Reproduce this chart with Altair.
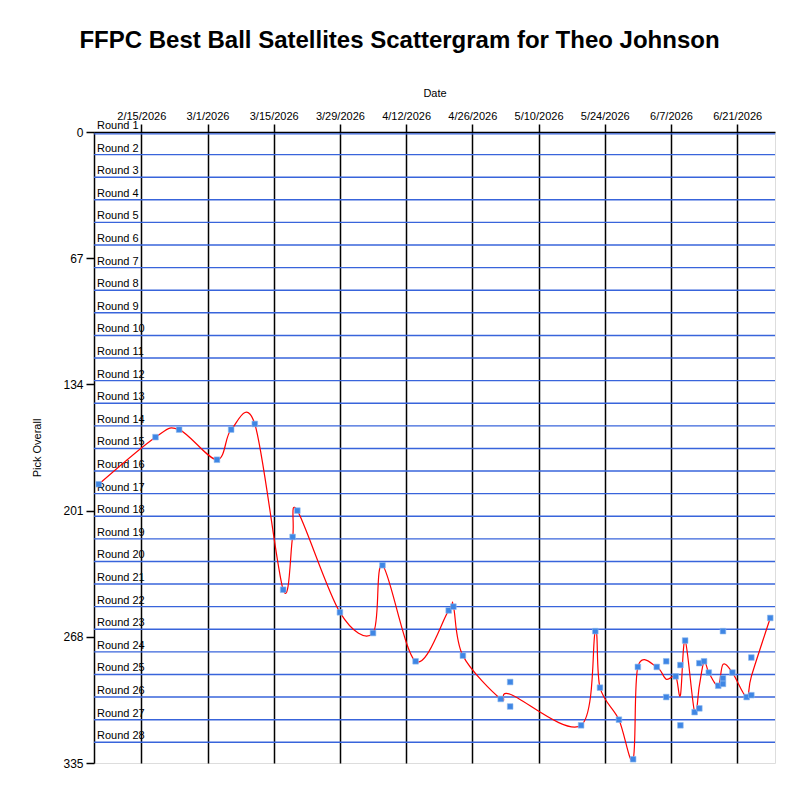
import altair as alt
import pandas as pd

# --- data ---
dates = ["2026-02-06", "2026-02-18", "2026-02-23", "2026-03-03", "2026-03-06", "2026-03-11",
         "2026-03-17", "2026-03-19", "2026-03-20", "2026-03-29", "2026-04-05", "2026-04-07",
         "2026-04-14", "2026-04-21", "2026-04-22", "2026-04-24", "2026-05-02", "2026-05-04",
         "2026-05-04", "2026-05-19", "2026-05-22", "2026-05-23", "2026-05-27", "2026-05-30",
         "2026-05-31", "2026-06-04", "2026-06-06", "2026-06-06", "2026-06-08", "2026-06-09",
         "2026-06-09", "2026-06-10", "2026-06-12", "2026-06-13", "2026-06-13", "2026-06-14",
         "2026-06-15", "2026-06-17", "2026-06-18", "2026-06-18", "2026-06-18", "2026-06-20",
         "2026-06-23", "2026-06-24", "2026-06-24", "2026-06-28"]
picks = [187, 162, 158, 174, 158, 155,
         243, 215, 201, 255, 266, 230,
         281, 254, 252, 278, 301, 292,
         305, 315, 265, 295, 312, 333,
         284, 284, 281, 300, 289, 283,
         315, 270, 308, 282, 306, 281,
         287, 294, 265, 290, 293, 287,
         300, 279, 299, 258]

round_lines = [1, 12, 24, 36, 48, 60, 72, 84, 96, 108, 120, 132, 144, 156, 168, 180,
               192, 204, 216, 228, 240, 252, 264, 276, 288, 300, 312, 324]
round_names = ["Round %d" % n for n in range(1, 29)]
round_label_pos = [0, 12, 24, 36, 48, 60, 72, 84, 96, 108, 120, 132, 144, 156, 168, 180,
                   192, 204, 216, 228, 240, 252, 264, 276, 288, 300, 312, 324]

y_ticks = [0, 67, 134, 201, 268, 335]
x_tick_dates = [(2, 15), (3, 1), (3, 15), (3, 29), (4, 12), (4, 26), (5, 10), (5, 24), (6, 7), (6, 21)]

FONT = "Liberation Sans"

df = pd.DataFrame({"date": dates, "pick": picks})
rounds_df = pd.DataFrame({"line": round_lines})
labels_df = pd.DataFrame({"name": round_names, "pos": round_label_pos})

x_scale = alt.Scale(type="utc",
                    domain=[alt.DateTime(year=2026, month=2, date=5, utc=True),
                            alt.DateTime(year=2026, month=6, date=29, utc=True)])
y_scale = alt.Scale(domain=[0, 335], reverse=True, nice=False, zero=False)
tick_values = [alt.DateTime(year=2026, month=m, date=d, utc=True) for m, d in x_tick_dates]

x_axis = alt.Axis(orient="top", title="Date",
                  values=tick_values,
                  format="%-m/%-d/%Y", labelAngle=0,
                  grid=True, gridColor="black", gridWidth=1.5, gridOpacity=1,
                  domainColor="black", domainWidth=1.5, tickColor="black", tickWidth=1.5, tickSize=8,
                  labelFont=FONT, labelFontSize=11, labelColor="black", labelPadding=3,
                  titleFont=FONT, titleFontSize=11, titleFontWeight="normal", titleColor="black",
                  titlePadding=12)
y_axis = alt.Axis(orient="left", title="Pick Overall", values=y_ticks, grid=False,
                  domainColor="black", domainWidth=1.5, tickColor="black", tickWidth=1.5, tickSize=8,
                  labelFont=FONT, labelFontSize=12, labelColor="black", labelPadding=3,
                  titleFont=FONT, titleFontSize=11, titleFontWeight="normal", titleColor="black",
                  titlePadding=20)

base_pts = alt.Chart(df)

points_axes = base_pts.mark_point(opacity=0).encode(
    x=alt.X("date:T", scale=x_scale, axis=x_axis),
    y=alt.Y("pick:Q", scale=y_scale, axis=y_axis),
)

round_rules = alt.Chart(rounds_df).mark_rule(color="#3864db", strokeWidth=1.4).encode(
    y=alt.Y("line:Q", scale=y_scale),
)

round_text = alt.Chart(labels_df).mark_text(
    align="left", baseline="alphabetic", dy=-3, font=FONT, fontSize=11, color="black"
).encode(
    x=alt.value(3),
    y=alt.Y("pos:Q", scale=y_scale),
    text="name:N",
)

trend = base_pts.mark_line(color="red", strokeWidth=1.2, interpolate="cardinal").encode(
    x=alt.X("date:T", scale=x_scale),
    y=alt.Y("mean(pick):Q", scale=y_scale),
)

squares = base_pts.mark_square(size=32, color="#3f86e4", opacity=1,
                               stroke="#8fbaf0", strokeWidth=0.6).encode(
    x=alt.X("date:T", scale=x_scale),
    y=alt.Y("pick:Q", scale=y_scale),
)

chart = alt.layer(points_axes, round_rules, round_text, trend, squares).properties(
    width=681, height=631,
    title=alt.TitleParams("FFPC Best Ball Satellites Scattergram for Theo Johnson",
                          font=FONT, fontSize=24, fontWeight="bold", color="black",
                          anchor="middle", frame="group", dx=-35, offset=34),
    padding={"left": 86, "top": 124, "right": 12, "bottom": 20},
    autosize=alt.AutoSizeParams(type="none"),
).configure_view(stroke=None).configure(background="white")

chart.save("out.html", embed_options={"renderer": "svg", "actions": False})
